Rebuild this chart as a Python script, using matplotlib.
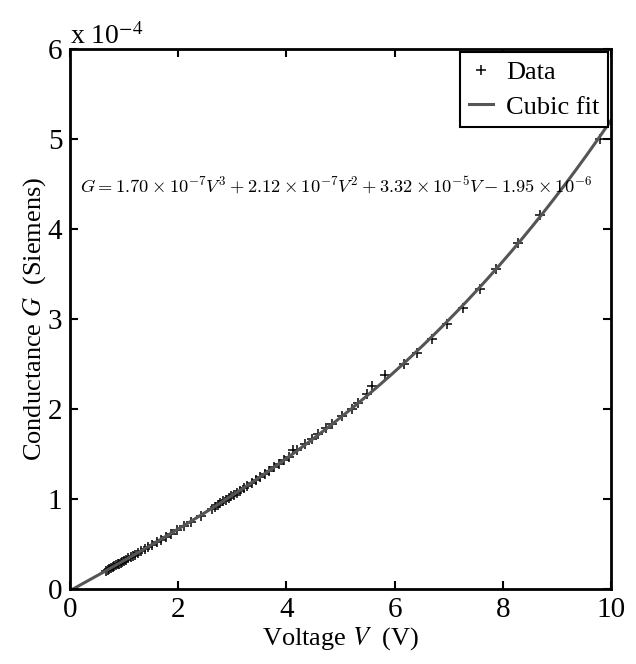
import numpy as np
import matplotlib
matplotlib.use('Agg')
import matplotlib.pyplot as plt

# measured voltage (V) and conductance (units of 1e-4 S)
voltage = [0.66, 0.70, 0.73, 0.76, 0.79, 0.82, 0.85, 0.88, 0.91, 0.94, 0.97,
           1.00, 1.04, 1.08, 1.12, 1.16, 1.20, 1.25, 1.31, 1.38, 1.45, 1.52,
           1.60, 1.68, 1.77, 1.86, 1.97, 2.10, 2.24, 2.42, 2.62, 2.68, 2.73,
           2.78, 2.83, 2.88, 2.93, 2.98, 3.03, 3.08, 3.14, 3.21, 3.28, 3.36,
           3.44, 3.52, 3.60, 3.68, 3.77, 3.86, 3.95, 4.04, 4.12, 4.20, 4.34,
           4.47, 4.58, 4.73, 4.84, 5.03, 5.21, 5.32, 5.49, 5.58, 5.82, 6.17,
           6.41, 6.69, 6.97, 7.27, 7.58, 7.87, 8.28, 8.69, 9.80]
conductance = [0.200, 0.213, 0.224, 0.232, 0.243, 0.254, 0.263, 0.272, 0.283,
               0.293, 0.302, 0.314, 0.327, 0.340, 0.352, 0.367, 0.382, 0.398,
               0.418, 0.442, 0.466, 0.492, 0.520, 0.547, 0.580, 0.610, 0.650,
               0.695, 0.745, 0.815, 0.892, 0.915, 0.935, 0.952, 0.973, 0.990,
               1.012, 1.030, 1.048, 1.068, 1.094, 1.120, 1.149, 1.178, 1.212,
               1.245, 1.280, 1.312, 1.352, 1.390, 1.428, 1.468, 1.550, 1.540,
               1.610, 1.670, 1.725, 1.785, 1.838, 1.918, 2.000, 2.070, 2.165,
               2.260, 2.380, 2.500, 2.620, 2.780, 2.940, 3.120, 3.330, 3.560,
               3.840, 4.160, 5.000]

# cubic fit coefficients (S/V^n), highest power first
fit_coef = [1.70e-7, 2.12e-7, 3.32e-5, -1.95e-6]

plt.rcParams['font.family'] = 'Liberation Serif'
plt.rcParams['mathtext.fontset'] = 'stix'

fig = plt.figure(figsize=(6.36, 6.64), dpi=100)
ax = fig.add_axes([0.110, 0.113, 0.851, 0.813])

v_fit = np.linspace(0, 10, 200)
g_fit = np.polyval(fit_coef, v_fit) / 1e-4

ax.plot(voltage, conductance, '+', color='black', markersize=7,
        markeredgewidth=1.1, label='Data')
ax.plot(v_fit, g_fit, '-', color='#555555', linewidth=2.2, label='Cubic fit')

ax.set_xlim(0, 10)
ax.set_ylim(0, 6)
ax.set_xticks([0, 2, 4, 6, 8, 10])
ax.set_yticks([0, 1, 2, 3, 4, 5, 6])
ax.tick_params(direction='in', top=True, right=True, length=6, width=1.5,
               labelsize=21, pad=5.5)
for s in ax.spines.values():
    s.set_linewidth(2)

ax.set_xlabel('Voltage $V$  (V)', fontsize=19, labelpad=2)
ax.set_ylabel('Conductance $G$  (Siemens)', fontsize=19, labelpad=0)
ax.text(0.0, 0.998, 'x 10$^{-4}$', transform=ax.transAxes, fontsize=20,
        ha='left', va='bottom')

ax.text(4.92, 4.48,
        r'$G = 1.70\times10^{-7}V^3 + 2.12\times10^{-7}V^2 + 3.32\times10^{-5}V - 1.95\times10^{-6}$',
        fontsize=13.3, ha='center', va='center', math_fontfamily='cm')

leg = ax.legend(loc='upper right', fontsize=19, fancybox=False,
                edgecolor='black', framealpha=1, borderaxespad=0.12,
                handlelength=0.9, handletextpad=0.5, borderpad=0.33,
                labelspacing=0.4)
leg.get_frame().set_linewidth(1.5)

fig.savefig('out.png', dpi=100)
